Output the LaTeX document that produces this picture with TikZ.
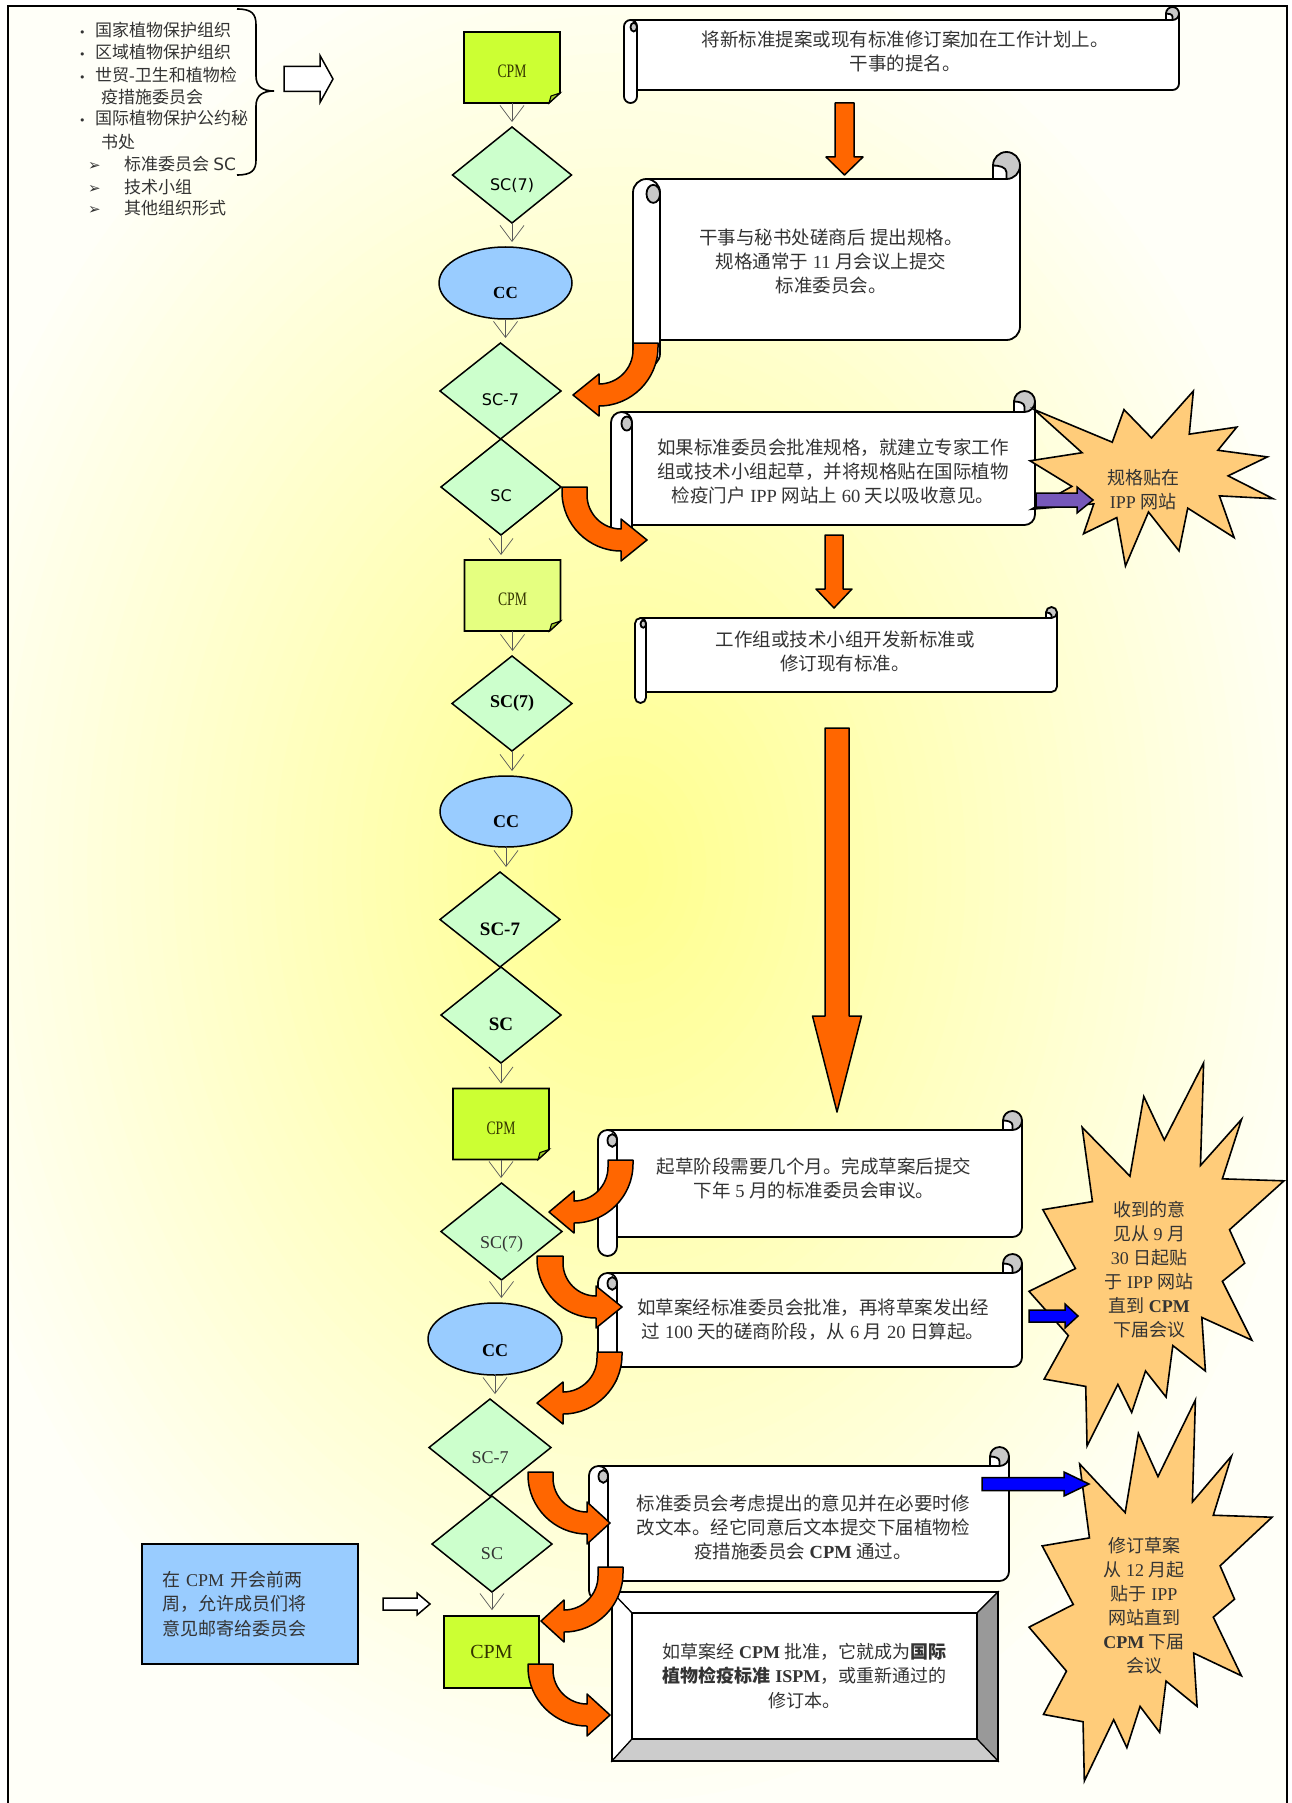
\documentclass[tikz,border=0pt]{standalone}
\usepackage{fontspec}
\setmainfont{Liberation Serif}
\newfontfamily\cjk{Noto Sans CJK SC}
\newfontfamily\dejavu{DejaVu Sans}
\newfontfamily\narrowserif[FakeStretch=0.72]{Liberation Serif}
\usetikzlibrary{shapes.geometric,arrows.meta}

% automatic switch to the CJK font for CJK characters
\XeTeXinterchartokenstate=1
\ifdefined\newXeTeXintercharclass \newXeTeXintercharclass\cjkclass \else \chardef\cjkclass=7 \fi
\makeatletter
\def\setcjkrange#1#2{\count@=#1\relax\loop\XeTeXcharclass\count@=\cjkclass\relax\ifnum\count@<#2\relax\advance\count@\@ne\repeat}
\setcjkrange{"3000}{"303F}
\setcjkrange{"4E00}{"9FFF}
\setcjkrange{"FF00}{"FFEF}
\makeatother
\XeTeXinterchartoks 0 \cjkclass = {\begingroup\cjk}
\XeTeXinterchartoks 4095 \cjkclass = {\begingroup\cjk}
\XeTeXinterchartoks \cjkclass 0 = {\endgroup}
\XeTeXinterchartoks \cjkclass 4095 = {\endgroup}

\definecolor{orangearr}{RGB}{255,102,0}
\definecolor{cpmgreen}{RGB}{204,255,51}
\definecolor{cpmpale}{RGB}{229,255,128}
\definecolor{foldgreen}{RGB}{163,204,41}
\definecolor{diagreen}{RGB}{204,255,204}
\definecolor{ccblue}{RGB}{153,204,255}
\definecolor{burstfill}{RGB}{255,204,122}
\definecolor{rollgrey}{RGB}{200,200,200}
\definecolor{txtgrey}{RGB}{51,51,51}
\definecolor{purplearr}{RGB}{118,88,186}
\definecolor{cpmtext}{RGB}{51,51,0}
\definecolor{bevelgrey}{RGB}{153,153,153}
\definecolor{bevellight}{RGB}{204,204,204}
\definecolor{bgout}{RGB}{255,255,248}

\pgfdeclarelayer{bgfar}
\pgfdeclarelayer{background}
\pgfsetlayers{bgfar,background,main}

\tikzset{
 scrl/.style={draw=black, line width=1.8pt},
 burst/.style={draw=black, line width=1.6pt, fill=burstfill, line join=miter},
 oarrow/.style={draw=black, line width=1.5pt, fill=orangearr, line join=round},
 dia/.style={diamond, draw=black, line width=1.5pt, fill=diagreen, inner sep=0pt, outer sep=0pt},
 ell/.style={ellipse, draw=black, line width=1.5pt, fill=ccblue, inner sep=0pt, outer sep=0pt},
 cpmbox/.style={rectangle, inner sep=0pt, outer sep=0pt, minimum width=96pt, minimum height=71pt, text=cpmtext},
 varrow/.style={draw=black!65, line width=0.7pt, -{Straight Barb[length=16pt,width=24pt]}, shorten >=5pt},
 scrolltext/.style={align=center, inner sep=0pt, text=txtgrey, font=\fontsize{18.5}{24}\selectfont},
 bursttext/.style={align=center, inner sep=0pt, text=txtgrey, font=\fontsize{18}{24}\selectfont},
 listtext/.style={anchor=west, inner sep=0pt, text=txtgrey, font=\fontsize{17}{20}\selectfont},
 tofs/.style={text height=#1, text depth=4pt},
}

% scroll: left, top, right, bottom, curl size
\newcommand\scrollshape[5]{%
 \filldraw[scrl, fill=white] ({#1+#5/2},{#2+#5}) -- ({#3-#5},{#2+#5}) -- ({#3-#5},{#2+#5/2}) -- (#3,{#2+#5/2}) -- (#3,{#4-1.5*#5}) .. controls (#3,{#4-1.224*#5}) and ({#3-0.224*#5},{#4-#5}) .. ({#3-#5/2},{#4-#5}) -- ({#1+#5/2},{#4-#5}) -- cycle;
 \filldraw[scrl, fill=rollgrey] ({#3-#5/2},{#2+#5/2}) circle[radius={#5/2}];
 \filldraw[scrl, fill=white, line join=round] ({#3-#5},{#2+#5}) -- ({#3-#5/2},{#2+#5}) -- ({#3-#5/2},{#2+0.75*#5}) .. controls ({#3-#5/2},{#2+0.55*#5}) and ({#3-0.8*#5},{#2+#5/2}) .. ({#3-#5},{#2+#5/2}) -- cycle;
 \filldraw[scrl, fill=white, rounded corners={#5/2}] (#1,{#2+#5}) rectangle ({#1+#5},#4);
 \filldraw[scrl, fill=rollgrey] ({#1+0.75*#5},{#2+1.55*#5}) ellipse[x radius={#5/4}, y radius={#5/3}];
}

% bent block arrows: x1, x2, y0, xtip, ytip, xbase
\newcommand\bentleft[6]{%
 \pgfmathsetmacro\bRo{min(#2-#6,#5+11-#3)}%
 \pgfmathsetmacro\bRi{min(#1-#6,#5-11-#3)}%
 \filldraw[oarrow] (#1,#3) -- (#2,#3) -- (#2,{#5+11-\bRo}) .. controls (#2,{#5+11-0.45*\bRo}) and ({#2-0.45*\bRo},{#5+11}) .. ({#2-\bRo},{#5+11}) -- (#6,{#5+11}) -- (#6,{#5+21}) -- (#4,#5) -- (#6,{#5-21}) -- (#6,{#5-11}) -- ({#1-\bRi},{#5-11}) .. controls ({#1-0.45*\bRi},{#5-11}) and (#1,{#5-11-0.45*\bRi}) .. (#1,{#5-11-\bRi}) -- cycle;}
\newcommand\bentright[6]{%
 \pgfmathsetmacro\bRo{min(#6-#1,#5+11-#3)}%
 \pgfmathsetmacro\bRi{min(#6-#2,#5-11-#3)}%
 \filldraw[oarrow] (#1,#3) -- (#2,#3) -- (#2,{#5-11-\bRi}) .. controls (#2,{#5-11-0.45*\bRi}) and ({#2+0.45*\bRi},{#5-11}) .. ({#2+\bRi},{#5-11}) -- (#6,{#5-11}) -- (#6,{#5-21}) -- (#4,#5) -- (#6,{#5+21}) -- (#6,{#5+11}) -- ({#1+\bRo},{#5+11}) .. controls ({#1+0.45*\bRo},{#5+11}) and (#1,{#5+11-0.45*\bRo}) .. (#1,{#5+11-\bRo}) -- cycle;}

% vertical block arrow: xc, ytop, ybase, ytip, shaft half, head half
\newcommand\vblock[6]{%
 \filldraw[oarrow] ({#1-#5},#2) -- ({#1+#5},#2) -- ({#1+#5},#3) -- ({#1+#6},#3) -- (#1,#4) -- ({#1-#6},#3) -- ({#1-#5},#3) -- cycle;}
% horizontal block arrow: x0, xbase, xtip, yc, shaft half, head half, fill
\newcommand\hblock[7]{%
 \filldraw[draw=black, line width=1.5pt, fill=#7] (#1,{#4-#5}) -- (#2,{#4-#5}) -- (#2,{#4-#6}) -- (#3,#4) -- (#2,{#4+#6}) -- (#2,{#4+#5}) -- (#1,{#4+#5}) -- cycle;}

% explosion shapes: left, top, right, bottom
\newcommand\sealone[4]{%
 \begin{scope}[shift={(#1,#2)}, xscale={(#3-#1)/216}, yscale={(#4-#2)/216}]
 \filldraw[burst] (108,58) -- (145.22,0) -- (141.55,53.25) -- (183.80,44.57) -- (167.02,73.15) -- (210.97,81.37) -- (176.07,104.75) -- (216,132.90) -- (168.37,129.42) -- (181.45,180.95) -- (140.20,144.57) -- (132.47,197.37) -- (105.32,149.35) -- (84.85,216) -- (77.15,156.27) -- (47.62,176.17) -- (56.67,139.37) -- (1.35,145.87) -- (37.22,117.75) -- (0,86.15) -- (46.27,76.17) -- (3.70,22.95) -- (73.12,63.20) -- (83.52,22.95) -- cycle;
 \end{scope}}
\newcommand\sealtwo[4]{%
 \begin{scope}[shift={(#1,#2)}, xscale={(#3-#1)/216}, yscale={(#4-#2)/216}]
 \filldraw[burst] (114.62,43.42) -- (147.90,0) -- (145.25,57.77) -- (180.07,31.72) -- (163.80,65.32) -- (216,66.45) -- (169.85,94.02) -- (182.70,112.90) -- (163.80,123.10) -- (188.77,156.32) -- (146.40,143.50) -- (149.42,173.70) -- (121.80,159.35) -- (116.12,188.42) -- (98.72,173.70) -- (87.00,197.12) -- (75.27,181.25) -- (49.17,216) -- (48.05,182.40) -- (12.85,178.25) -- (33.30,153.70) -- (0,128.77) -- (39.35,115.92) -- (11.72,82.70) -- (53.72,78.17) -- (45.02,36.25) -- (85.50,63.82) -- (97.22,18.87) -- cycle;
 \end{scope}}

\begin{document}
\begin{tikzpicture}[x=1pt,y=-1pt]
\useasboundingbox (0,0) rectangle (1292,1803);

% background: stepped elliptical yellow glow, and frame
\begin{pgfonlayer}{bgfar}
 \fill[white] (0,0) rectangle (1292,1803);
 \begin{scope}
  \clip (8,6) rectangle (1287,1803);
  \fill[bgout] (8,6) rectangle (1287,1803);
  \foreach \i in {0,...,48}{
   \pgfmathsetmacro\rr{1-\i/50}
   \pgfmathtruncatemacro\bb{140+108*\rr}
   \definecolor{glow}{RGB}{255,255,\bb}
   \fill[glow] (620,870) ellipse[x radius={720*\rr}, y radius={950*\rr}];
  }
 \end{scope}
 \draw[line width=2pt] (8,1803) -- (8,6) -- (1287,6) -- (1287,1803);
\end{pgfonlayer}

% participant list
\node[listtext] (li1) at (79,30) {\makebox[16pt][l]{\dejavu\fontsize{11}{11}\selectfont •}国家植物保护组织};
\node[listtext] (li2) at (79,52) {\makebox[16pt][l]{\dejavu\fontsize{11}{11}\selectfont •}区域植物保护组织};
\node[listtext] (li3) at (79,75) {\makebox[16pt][l]{\dejavu\fontsize{11}{11}\selectfont •}世贸-卫生和植物检};
\node[listtext] (li4) at (101,97) {疫措施委员会};
\node[listtext] (li5) at (79,118) {\makebox[16pt][l]{\dejavu\fontsize{11}{11}\selectfont •}国际植物保护公约秘};
\node[listtext] (li6) at (101,142) {书处};
\node[listtext] (li7) at (88,164) {\makebox[36pt][l]{\dejavu\fontsize{15}{15}\selectfont ➢}标准委员会 {\dejavu SC}};
\node[listtext] (li8) at (88,187) {\makebox[36pt][l]{\dejavu\fontsize{15}{15}\selectfont ➢}技术小组};
\node[listtext] (li9) at (88,208) {\makebox[36pt][l]{\dejavu\fontsize{15}{15}\selectfont ➢}其他组织形式};
\draw[line width=1.6pt] (237,9) .. controls (252,9) and (256,14) .. (256,25) -- (256,76) .. controls (256,86) and (262,91) .. (274,91) .. controls (262,91) and (256,96) .. (256,106) -- (256,160) .. controls (256,170) and (252,175) .. (237,175);
\hblock{284}{320}{333}{79}{12.5}{23.5}{white}

% scrolls
\scrollshape{624}{7}{1179}{103}{13}
\node[scrolltext] (txtS1) at (905,51) {将新标准提案或现有标准修订案加在工作计划上。\\干事的提名。};
\scrollshape{633}{152}{1020}{367}{27}
\node[scrolltext] (txtS2) at (831,261) {干事与秘书处磋商后 提出规格。\\规格通常于 11 月会议上提交\\标准委员会。};
\scrollshape{611}{391}{1035}{546}{21}
\node[scrolltext] (txtS3) at (833,471) {如果标准委员会批准规格，就建立专家工作\\组或技术小组起草，并将规格贴在国际植物\\检疫门户 IPP 网站上 60 天以吸收意见。};
\scrollshape{635}{607}{1057}{703}{11}
\node[scrolltext] (txtS4) at (845,651.5) {工作组或技术小组开发新标准或\\修订现有标准。};
\scrollshape{598}{1111}{1022}{1256}{19}
\node[scrolltext] (txtS5) at (814,1178.5) {起草阶段需要几个月。完成草案后提交\\下年 5 月的标准委员会审议。};
\scrollshape{598}{1254}{1022}{1386}{19}
\node[scrolltext] (txtS6) at (813,1320) {如草案经标准委员会批准，再将草案发出经\\过 100 天的磋商阶段，从 6 月 20 日算起。};
\scrollshape{589}{1447}{1009}{1600}{19}
\node[scrolltext] (txtS7) at (803,1527.5) {标准委员会考虑提出的意见并在必要时修\\改文本。经它同意后文本提交下届植物检\\疫措施委员会 {\bfseries CPM} 通过。};

% final bevelled box
\filldraw[draw=black, line width=1.2pt, fill=white] (612,1592) -- (998,1592) -- (977,1613) -- (632,1613) -- cycle;
\filldraw[draw=black, line width=1.2pt, fill=white] (612,1592) -- (632,1613) -- (632,1739) -- (612,1761) -- cycle;
\filldraw[draw=black, line width=1.2pt, fill=bevelgrey] (998,1592) -- (998,1761) -- (977,1739) -- (977,1613) -- cycle;
\filldraw[draw=black, line width=1.2pt, fill=bevellight] (612,1761) -- (998,1761) -- (977,1739) -- (632,1739) -- cycle;
\draw[line width=2.2pt] (612,1592) rectangle (998,1761);
\node[draw=black, line width=1.6pt, fill=white, minimum width=345pt, minimum height=126pt, align=center, inner sep=0pt, text=txtgrey, font=\fontsize{18}{24.5}\selectfont] (final) at (804.5,1676) {如草案经 {\bfseries CPM} 批准，它就成为{\bfseries 国际}\\{\bfseries 植物检疫标准 ISPM}，或重新通过的\\修订本。};

% comments box
\node[draw=black, line width=2.2pt, fill=ccblue, minimum width=216pt, minimum height=120pt, text width=176pt, align=left, inner xsep=20pt, inner ysep=0pt, text=txtgrey, font=\fontsize{18}{24.5}\selectfont] (advice) at (250,1604) {在 CPM 开会前两\\周，允许成员们将\\意见邮寄给委员会};
\hblock{383}{417}{430}{1604}{6}{11}{white}

% explosions
\sealone{1030}{391}{1273}{566}
\node[bursttext] (txtB1) at (1143,489.5) {规格贴在\\IPP 网站};
\sealtwo{1029}{1063}{1284}{1446}
\node[bursttext] (txtB2) at (1149,1270) {收到的意\\见从 9 月\\30 日起贴\\于 IPP 网站\\直到 {\bfseries CPM}\\下届会议};
\sealtwo{1029}{1400}{1272}{1781}
\node[bursttext] (txtB3) at (1144,1606) {修订草案\\从 12 月起\\贴于 IPP\\网站直到\\{\bfseries CPM} 下届\\会议};
\hblock{1036}{1077}{1093}{500}{7}{13}{purplearr}
\hblock{1029}{1065}{1078}{1316}{6}{12}{blue}
\hblock{982}{1064}{1089}{1484}{6.5}{12}{blue}

% process column
\node[cpmbox, tofs=25pt, font=\narrowserif\fontsize{19}{20}\selectfont] (cpmA) at (512,67.5) {CPM};
\node[dia, minimum width=119pt, minimum height=96pt, tofs=36pt, font=\dejavu\fontsize{16}{18}\selectfont] (scSevenA) at (512,175) {SC(7)};
\node[ell, minimum width=133pt, minimum height=72pt, tofs=35pt, font=\bfseries\fontsize{17}{18}\selectfont] (ccA) at (505.5,283) {CC};
\node[dia, minimum width=121pt, minimum height=96pt, tofs=32pt, font=\dejavu\fontsize{16}{18}\selectfont] (scDashA) at (500.5,391) {SC-7};
\node[dia, minimum width=120pt, minimum height=96pt, tofs=32pt, font=\dejavu\fontsize{16}{18}\selectfont] (scA) at (501,487) {SC};

\node[cpmbox, tofs=23pt, font=\narrowserif\fontsize{19}{20}\selectfont] (cpmB) at (512.5,595.5) {CPM};
\node[dia, minimum width=120pt, minimum height=95pt, font=\bfseries\fontsize{18}{20}\selectfont] (scSevenB) at (512,703.5) {SC(7)};
\node[ell, minimum width=132pt, minimum height=71pt, tofs=36pt, font=\bfseries\fontsize{18}{20}\selectfont] (ccB) at (506,811.5) {CC};
\node[dia, minimum width=120pt, minimum height=95pt, tofs=36pt, font=\bfseries\fontsize{19}{20}\selectfont] (scDashB) at (500,919.5) {SC-7};
\node[dia, minimum width=120pt, minimum height=96pt, tofs=34pt, font=\bfseries\fontsize{19}{20}\selectfont] (scB) at (501,1015) {SC};

\node[cpmbox, tofs=25pt, font=\narrowserif\fontsize{19}{20}\selectfont] (cpmC) at (501,1124) {CPM};
\node[dia, minimum width=121pt, minimum height=97pt, tofs=38pt, text=txtgrey, font=\fontsize{18}{20}\selectfont] (scSevenC) at (501.5,1231.5) {SC(7)};
\node[ell, minimum width=134pt, minimum height=72pt, tofs=38pt, font=\bfseries\fontsize{18}{20}\selectfont] (ccC) at (495,1339) {CC};
\node[dia, minimum width=122pt, minimum height=97pt, tofs=36pt, text=txtgrey, font=\fontsize{18}{20}\selectfont] (scDashC) at (490,1447.5) {SC-7};
\node[dia, minimum width=120pt, minimum height=96pt, tofs=34pt, text=txtgrey, font=\fontsize{18}{20}\selectfont] (scC) at (492,1544) {SC};
\node[rectangle, draw=black, line width=1.8pt, fill=cpmgreen, minimum width=95pt, minimum height=72pt, inner sep=0pt, text=cpmtext, font=\fontsize{20}{22}\selectfont] (cpmD) at (491.5,1652) {CPM};

% folded-corner CPM boxes
\begin{pgfonlayer}{background}
 \foreach \n/\f in {cpmA/cpmgreen, cpmB/cpmpale, cpmC/cpmgreen}{
  \filldraw[line width=1.6pt, fill=\f] (\n.north west) -- (\n.north east) -- ([yshift=10pt]\n.south east) -- ([xshift=-11pt]\n.south east) -- (\n.south west) -- cycle;
  \filldraw[line width=1.1pt, fill=foldgreen] ([yshift=10pt]\n.south east) -- ([xshift=-11pt]\n.south east) -- ([xshift=-9pt,yshift=7pt]\n.south east) -- cycle;
 }
\end{pgfonlayer}

% thin flow arrows
\foreach \a/\b in {cpmA/scSevenA, scSevenA/ccA, ccA/scDashA, scA/cpmB, cpmB/scSevenB, scSevenB/ccB, ccB/scDashB, scB/cpmC, cpmC/scSevenC, scSevenC/ccC, ccC/scDashC, scC/cpmD}
 \draw[varrow] (\a.south) -- (\a.south |- \b.north);

% orange block arrows
\vblock{844.5}{103}{157}{175}{9.5}{18.5}
\vblock{834}{535}{589}{608}{9}{18}
\vblock{837}{728}{1016}{1112}{12}{24.5}
\bentleft{633}{658}{343}{573}{395}{599}
\bentright{562}{587}{487}{647}{540}{621}
\bentleft{608}{633}{1160}{549}{1212}{574}
\bentright{537}{563}{1256}{622}{1307}{596}
\bentleft{597}{622}{1352}{537}{1403}{563}
\bentright{528}{553}{1472}{610}{1523}{587}
\bentleft{598}{623}{1567}{541}{1621}{564}
\bentright{528}{553}{1664}{610}{1715}{587}
\end{tikzpicture}
\end{document}
